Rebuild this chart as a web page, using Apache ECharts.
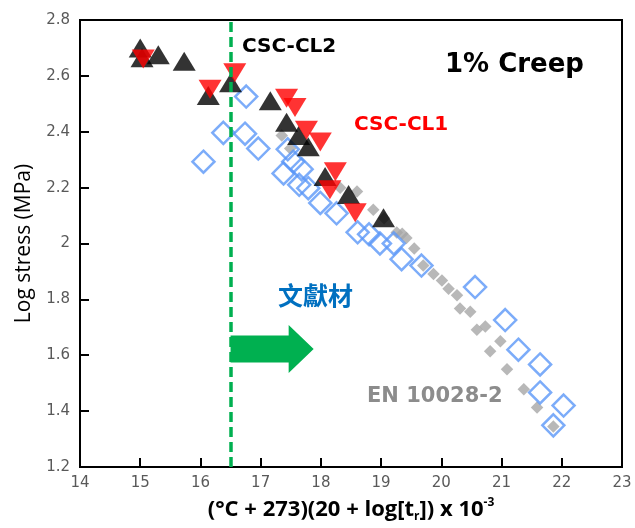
<!DOCTYPE html>
<html>
<head>
<meta charset="utf-8">
<script src="https://cdn.jsdelivr.net/npm/echarts@6/dist/echarts.min.js"></script>
<style>html,body{margin:0;padding:0;background:#fff;}#c{width:635px;height:528px;}</style>
</head>
<body>
<div id="c"></div>
<script>
// CSC-CL2 (black, upward triangles)
const cl2 = [
  [15.00, 2.700], [15.03, 2.665], [15.30, 2.676], [15.73, 2.652], [16.13, 2.530],
  [16.50, 2.575], [17.16, 2.511], [17.43, 2.434], [17.63, 2.387], [17.79, 2.346],
  [18.07, 2.240], [18.46, 2.175], [19.04, 2.092]
];
// CSC-CL1 (red, downward triangles)
const cl1 = [
  [15.05, 2.660], [16.16, 2.552], [16.57, 2.611], [17.43, 2.520], [17.57, 2.487],
  [17.76, 2.405], [17.99, 2.363], [18.24, 2.257], [18.15, 2.192], [18.57, 2.110]
];
// 文獻材 (blue hollow diamonds)
const lit = [
  [16.05, 2.293], [16.38, 2.396], [16.74, 2.393], [16.76, 2.526], [16.96, 2.340],
  [17.38, 2.251], [17.45, 2.337], [17.54, 2.293], [17.64, 2.210], [17.68, 2.266],
  [17.79, 2.198], [17.99, 2.145], [18.26, 2.108], [18.61, 2.040], [18.80, 2.033],
  [18.98, 2.000], [19.21, 2.000], [19.34, 1.944], [19.67, 1.921], [20.56, 1.844],
  [21.06, 1.726], [21.28, 1.620], [21.64, 1.567], [21.64, 1.467], [22.03, 1.420],
  [21.86, 1.349]
];
// EN 10028-2 (grey filled diamonds)
const en = [
  [17.35, 2.387], [17.49, 2.340], [18.32, 2.200], [18.60, 2.186], [18.87, 2.121],
  [19.05, 2.090], [19.26, 2.039], [19.35, 2.035], [19.42, 2.020], [19.55, 1.982],
  [19.70, 1.921], [19.87, 1.891], [20.01, 1.868], [20.12, 1.838], [20.26, 1.815],
  [20.31, 1.767], [20.48, 1.756], [20.59, 1.691], [20.73, 1.703], [20.98, 1.650],
  [20.81, 1.614], [21.09, 1.550], [21.37, 1.478], [21.59, 1.413], [21.86, 1.345]
];
// reference line and arrow (data coords): x of boundary, arrow [xStart, xEnd, y]
const boundaryX = 16.5;
const arrow = [[16.5, 17.88, 1.622]];
const xTicks = {min: 14, max: 23, interval: 1};
const yTicks = {min: 1.2, max: 2.8, interval: 0.2};

const chart = echarts.init(document.getElementById('c'));
const tickFont = {fontFamily: 'DejaVu Sans', fontSize: 15, color: '#595959'};
chart.setOption({
  animation: false,
  grid: {left: 80, right: 13, top: 20, bottom: 56, show: true, borderColor: '#000', borderWidth: 2},
  xAxis: {
    type: 'value', min: xTicks.min, max: xTicks.max, interval: xTicks.interval,
    axisLine: {show: true, lineStyle: {color: '#000', width: 2}},
    axisTick: {show: true, inside: true, length: 9, lineStyle: {color: '#000', width: 2}},
    splitLine: {show: false},
    axisLabel: Object.assign({margin: 9}, tickFont),
    name: '(°C + 273)(20 + log[t{sub|r}]) x 10{sup|-3}',
    nameLocation: 'middle', nameGap: 30,
    nameTextStyle: {
      fontFamily: 'Open Sans', fontWeight: 'bold', fontSize: 22, color: '#000', lineHeight: 26,
      rich: {
        sub: {fontFamily: 'Open Sans', fontWeight: 'bold', fontSize: 12, verticalAlign: 'bottom', lineHeight: 12, padding: [10, 0, 0, 0]},
        sup: {fontFamily: 'Open Sans', fontWeight: 'bold', fontSize: 12, verticalAlign: 'top', lineHeight: 12, padding: [0, 0, 10, 0]}
      }
    }
  },
  yAxis: {
    type: 'value', min: yTicks.min, max: yTicks.max, interval: yTicks.interval,
    axisLine: {show: true, lineStyle: {color: '#000', width: 2}},
    axisTick: {show: true, inside: true, length: 9, lineStyle: {color: '#000', width: 2}},
    splitLine: {show: false},
    axisLabel: Object.assign({margin: 10, formatter: v => (Math.round(v * 10) / 10).toString()}, tickFont),
    name: 'Log stress (MPa)', nameLocation: 'middle', nameGap: 45,
    nameTextStyle: {fontFamily: 'Open Sans', fontSize: 21, color: '#000'}
  },
  series: [
    {
      name: 'EN 10028-2', type: 'scatter', data: en, symbol: 'diamond', symbolSize: 12.5,
      itemStyle: {color: '#A6A6A6'},
      markLine: {
        silent: true, symbol: 'none', label: {show: false},
        lineStyle: {color: '#00B050', width: 3.5, type: [10, 5]},
        data: [{xAxis: boundaryX}]
      }
    },
    {
      name: '文獻材', type: 'scatter', data: lit, symbol: 'diamond', symbolSize: 22,
      itemStyle: {color: 'rgba(0,0,0,0)', borderColor: '#5B97F7', borderWidth: 2.5}
    },
    {
      name: 'CSC-CL2', type: 'scatter', data: cl2, symbol: 'triangle', symbolSize: [23, 19],
      itemStyle: {color: '#000'}
    },
    {
      name: 'CSC-CL1', type: 'scatter', data: cl1, symbol: 'triangle', symbolSize: [23, 19], symbolRotate: 180,
      itemStyle: {color: '#FF0000'}
    },
    {
      type: 'custom', data: arrow, silent: true, z: 5,
      renderItem: (params, api) => {
        const a = api.coord([api.value(0), api.value(2)]);
        const b = api.coord([api.value(1), api.value(2)]);
        const bh = 13.5, hh = 24, hl = 25;
        const neck = b[0] - hl;
        return {
          type: 'polygon',
          shape: {points: [
            [a[0], a[1] - bh], [neck, a[1] - bh], [neck, a[1] - hh], [b[0], b[1]],
            [neck, a[1] + hh], [neck, a[1] + bh], [a[0], a[1] + bh]
          ]},
          style: {fill: '#00B050'}
        };
      }
    }
  ],
  graphic: [
    {type: 'text', x: 242, y: 47, style: {text: 'CSC-CL2', fontFamily: 'DejaVu Sans', fontWeight: 'bold', fontSize: 20, fill: '#000', verticalAlign: 'middle'}},
    {type: 'text', x: 445, y: 65, style: {text: '1% Creep', fontFamily: 'DejaVu Sans', fontWeight: 'bold', fontSize: 26, fill: '#000', verticalAlign: 'middle'}},
    {type: 'text', x: 354, y: 125, style: {text: 'CSC-CL1', fontFamily: 'DejaVu Sans', fontWeight: 'bold', fontSize: 20, fill: '#FF0000', verticalAlign: 'middle'}},
    {type: 'text', x: 278, y: 295, style: {text: '文獻材', fontFamily: 'Noto Sans CJK TC', fontWeight: 'bold', fontSize: 25, fill: '#0070C0', verticalAlign: 'middle'}},
    {type: 'text', x: 367, y: 397, style: {text: 'EN 10028-2', fontFamily: 'DejaVu Sans', fontWeight: 'bold', fontSize: 21, fill: '#8C8C8C', verticalAlign: 'middle'}}
  ]
});
</script>
</body>
</html>
